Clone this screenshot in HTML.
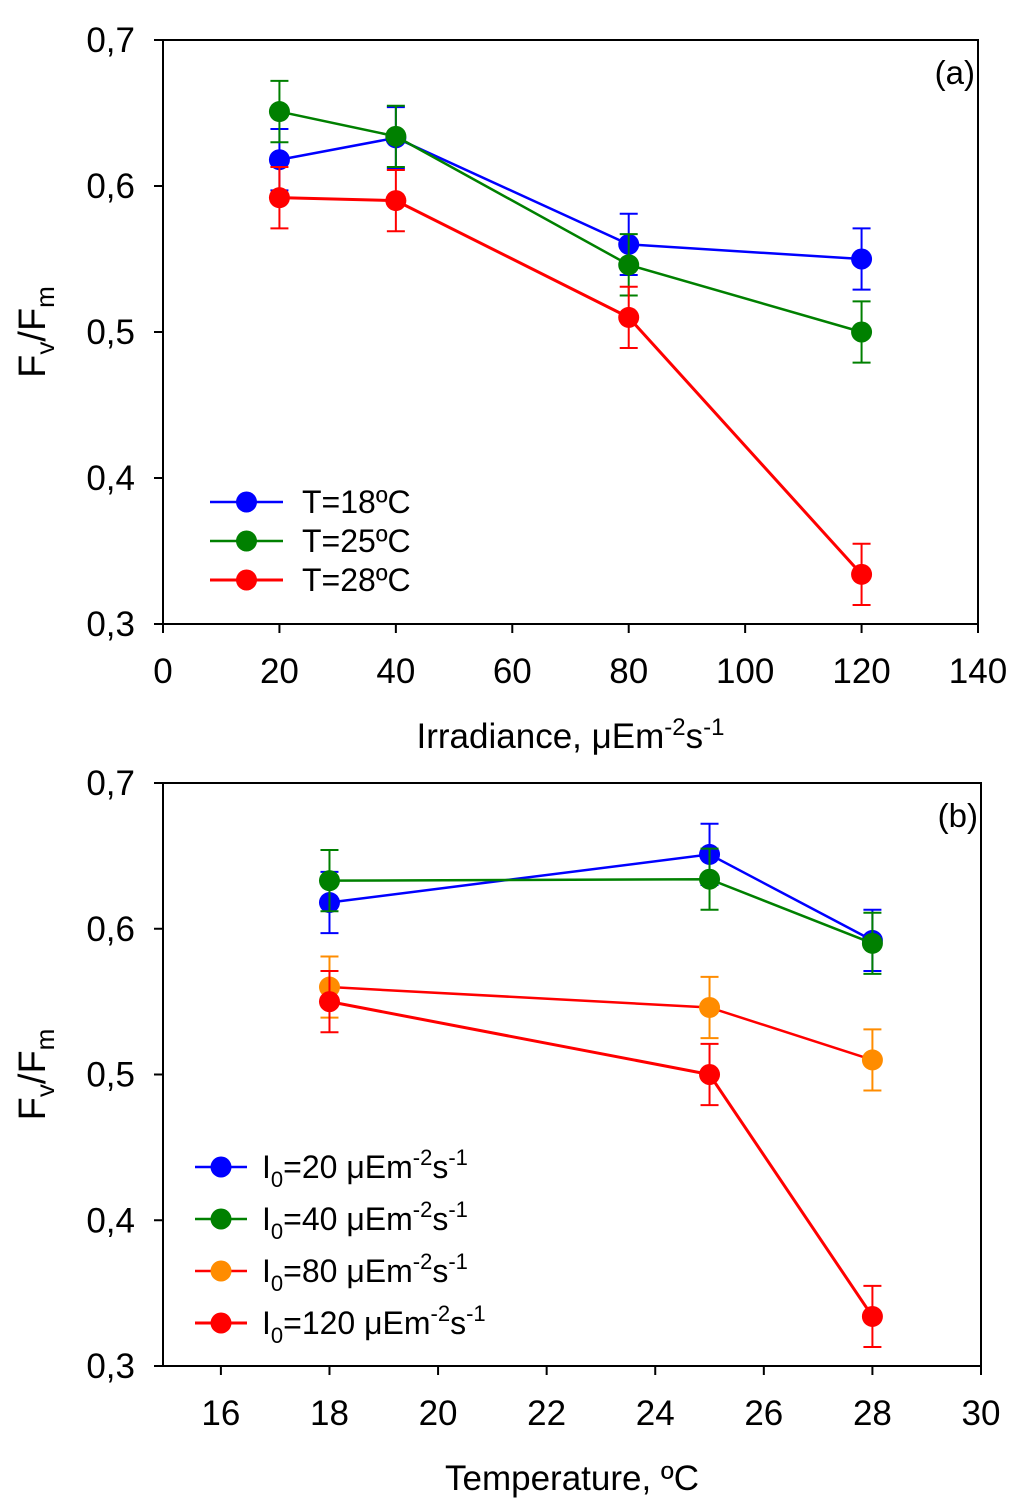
<!DOCTYPE html>
<html><head><meta charset="utf-8"><style>
body{margin:0;background:#fff;}
svg{display:block;font-family:"Liberation Sans",Arial,sans-serif;}
</style></head><body>
<svg id="c" width="1024" height="1512" viewBox="0 0 1024 1512"></svg>
<script>
// Panel (a)
const aX = [20, 40, 80, 120];
const aT18 = [0.618, 0.633, 0.560, 0.550];
const aT25 = [0.651, 0.634, 0.546, 0.500];
const aT28 = [0.592, 0.590, 0.510, 0.334];
const aErr = [0.021, 0.021, 0.021, 0.021];
const aXTicks = [0, 20, 40, 60, 80, 100, 120, 140];
const yTicks = [0.3, 0.4, 0.5, 0.6, 0.7];
const yTickLabels = ["0,3", "0,4", "0,5", "0,6", "0,7"];
// Panel (b)
const bX = [18, 25, 28];
const bI20 = [0.618, 0.651, 0.592];
const bI40 = [0.633, 0.634, 0.590];
const bI80 = [0.560, 0.546, 0.510];
const bI120 = [0.550, 0.500, 0.334];
const bErr = [0.021, 0.021, 0.021];
const bXTicks = [16, 18, 20, 22, 24, 26, 28, 30];

const NS = "http://www.w3.org/2000/svg";
const svg = document.getElementById('c');
function mk(tag, attrs, parent, name) {
  const e = document.createElementNS(NS, tag);
  for (const k in attrs) e.setAttribute(k, attrs[k]);
  
  
  (parent || svg).appendChild(e);
  return e;
}
function txt(x, y, s, size, anchor, name, parent) {
  const t = mk('text', {x: x, y: y, 'font-size': size, 'text-anchor': anchor, fill: '#000'}, parent, name);
  t.innerHTML = s;
  return t;
}

function panel(cfg) {
  const g = mk('g', {}, svg, cfg.name);
  const sx = v => cfg.xa + (v - cfg.xmin) / (cfg.xmax - cfg.xmin) * (cfg.x1 - cfg.xa);
  const sy = v => cfg.y1 - (v - 0.3) / 0.4 * (cfg.y1 - cfg.y0);
  mk('rect', {x: cfg.x0, y: cfg.y0, width: cfg.x1 - cfg.x0, height: cfg.y1 - cfg.y0, fill: 'none', stroke: '#000', 'stroke-width': 2}, g, 'plot-frame');
  cfg.xticks.forEach(v => {
    mk('line', {x1: sx(v), x2: sx(v), y1: cfg.y1, y2: cfg.y1 + 9, stroke: '#000', 'stroke-width': 2}, g, 'x-tick');
    txt(sx(v), cfg.y1 + 59, String(v), 35, 'middle', 'x-tick-label', g);
  });
  yTicks.forEach((v, i) => {
    mk('line', {x1: cfg.x0 - 9, x2: cfg.x0, y1: sy(v), y2: sy(v), stroke: '#000', 'stroke-width': 2}, g, 'y-tick');
    txt(cfg.x0 - 28, sy(v) + 12, yTickLabels[i], 35, 'end', 'y-tick-label', g);
  });
  const yl = txt(0, 0, 'F<tspan font-size="26" dy="9">v</tspan><tspan dy="-9">/F</tspan><tspan font-size="26" dy="9">m</tspan>', 38, 'middle', 'y-axis-title', g);
  yl.setAttribute('transform', `translate(45,${(cfg.y0 + cfg.y1) / 2}) rotate(-90)`);
  txt((cfg.x0 + cfg.x1) / 2, cfg.y1 + 124, cfg.xtitle, 35, 'middle', 'x-axis-title', g);
  txt(cfg.x1 - 3, cfg.y0 + 44, cfg.label, 33, 'end', 'panel-label', g);
  cfg.series.forEach(s => {
    const sg = mk('g', {}, g, 'series-' + s.key);
    const pts = cfg.xs.map((x, i) => sx(x) + ',' + sy(s.v[i])).join(' ');
    mk('polyline', {points: pts, fill: 'none', stroke: s.c, 'stroke-width': s.w}, sg, 'series-line');
    cfg.xs.forEach((x, i) => {
      mk('circle', {cx: sx(x), cy: sy(s.v[i]), r: 10.5, fill: s.mc || s.c}, sg, 'data-point');
    });
    cfg.xs.forEach((x, i) => {
      const X = sx(x), hi = sy(s.v[i] + cfg.err[i]), lo = sy(s.v[i] - cfg.err[i]);
      const ec = s.mc || s.c;
      mk('line', {x1: X, x2: X, y1: hi, y2: lo, stroke: ec, 'stroke-width': 2}, sg, 'error-bar');
      mk('line', {x1: X - 9, x2: X + 9, y1: hi, y2: hi, stroke: ec, 'stroke-width': 2}, sg, 'error-cap');
      mk('line', {x1: X - 9, x2: X + 9, y1: lo, y2: lo, stroke: ec, 'stroke-width': 2}, sg, 'error-cap');
    });
  });
  cfg.series.forEach((s, i) => {
    const lg = mk('g', {}, g, 'legend-entry');
    const y = cfg.ly + i * cfg.lstep;
    mk('line', {x1: cfg.lx, x2: cfg.lx + cfg.llen, y1: y, y2: y, stroke: s.c, 'stroke-width': s.w}, lg, 'legend-line');
    mk('circle', {cx: cfg.lx + cfg.llen / 2, cy: y, r: 10.5, fill: s.mc || s.c}, lg, 'legend-marker');
    txt(cfg.ltx, y + 11, s.label, cfg.lfs, 'start', 'legend-label', lg);
  });
}

panel({name: 'panel-a', x0: 163, xa: 163, x1: 978, y0: 40, y1: 624, xmin: 0, xmax: 140, xticks: aXTicks, xs: aX, err: aErr,
  xtitle: 'Irradiance, μEm<tspan font-size="24" dy="-13">-2</tspan><tspan dy="13">s</tspan><tspan font-size="24" dy="-13">-1</tspan>',
  label: '(a)', lx: 210, llen: 73, ltx: 302, lfs: 32, ly: 502, lstep: 39,
  series: [
    {key: 't18', v: aT18, c: '#0000ff', w: 2.5, label: 'T=18ºC'},
    {key: 't25', v: aT25, c: '#008000', w: 2.5, label: 'T=25ºC'},
    {key: 't28', v: aT28, c: '#ff0000', w: 3, label: 'T=28ºC'}
  ]});
const sub = n => `I<tspan font-size="22" dy="9">0</tspan><tspan dy="-9">=${n} μEm</tspan><tspan font-size="22" dy="-13">-2</tspan><tspan dy="13">s</tspan><tspan font-size="22" dy="-13">-1</tspan>`;
panel({name: 'panel-b', x0: 163, xa: 166.6, x1: 981, y0: 783, y1: 1366, xmin: 15, xmax: 30, xticks: bXTicks, xs: bX, err: bErr,
  xtitle: 'Temperature, ºC', label: '(b)', lx: 195, llen: 52, ltx: 262, lfs: 32, ly: 1167, lstep: 52,
  series: [
    {key: 'i20', v: bI20, c: '#0000ff', w: 2.5, label: sub(20)},
    {key: 'i40', v: bI40, c: '#008000', w: 2.5, label: sub(40)},
    {key: 'i80', v: bI80, c: '#ff0000', w: 2.5, label: sub(80), mc: '#ff8c00'},
    {key: 'i120', v: bI120, c: '#ff0000', w: 3, label: sub(120)}
  ]});
</script>
</body></html>
